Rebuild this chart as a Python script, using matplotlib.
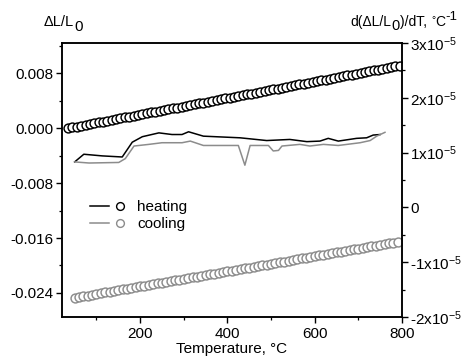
import matplotlib
matplotlib.use("Agg")
import matplotlib.pyplot as plt
from matplotlib.lines import Line2D
from matplotlib.legend_handler import HandlerTuple
from matplotlib.ticker import MultipleLocator, FixedLocator, FuncFormatter

plt.rcParams['font.family'] = ['Liberation Sans', 'DejaVu Sans']
plt.rcParams['mathtext.fontset'] = 'custom'
plt.rcParams['mathtext.rm'] = 'Liberation Sans'
plt.rcParams['mathtext.it'] = 'Liberation Sans'
plt.rcParams['mathtext.default'] = 'regular'

# ---- data: dL/L0 (circles, left axis) ----
heat_T = [35, 45, 55, 65, 75, 85, 95, 105, 115, 125,
          135, 145, 155, 165, 175, 185, 195, 205, 215, 225,
          235, 245, 255, 265, 275, 285, 295, 305, 315, 325,
          335, 345, 355, 365, 375, 385, 395, 405, 415, 425,
          435, 445, 455, 465, 475, 485, 495, 505, 515, 525,
          535, 545, 555, 565, 575, 585, 595, 605, 615, 625,
          635, 645, 655, 665, 675, 685, 695, 705, 715, 725,
          735, 745, 755, 765, 775, 785, 795]
heat_dL_e3 = [0.00, 0.12, 0.24, 0.36, 0.48, 0.60, 0.72, 0.84, 0.96, 1.08,
              1.20, 1.32, 1.44, 1.56, 1.68, 1.80, 1.92, 2.04, 2.16, 2.28,
              2.40, 2.52, 2.64, 2.76, 2.88, 3.00, 3.12, 3.24, 3.36, 3.48,
              3.60, 3.72, 3.84, 3.96, 4.08, 4.20, 4.32, 4.44, 4.56, 4.68,
              4.80, 4.92, 5.04, 5.16, 5.28, 5.40, 5.52, 5.64, 5.76, 5.88,
              6.00, 6.12, 6.24, 6.36, 6.48, 6.60, 6.72, 6.84, 6.96, 7.08,
              7.20, 7.32, 7.44, 7.56, 7.68, 7.80, 7.92, 8.04, 8.16, 8.28,
              8.40, 8.52, 8.64, 8.76, 8.88, 9.00, 9.12]

cool_T = [50, 60, 70, 80, 90, 100, 110, 120, 130, 140,
          150, 160, 170, 180, 190, 200, 210, 220, 230, 240,
          250, 260, 270, 280, 290, 300, 310, 320, 330, 340,
          350, 360, 370, 380, 390, 400, 410, 420, 430, 440,
          450, 460, 470, 480, 490, 500, 510, 520, 530, 540,
          550, 560, 570, 580, 590, 600, 610, 620, 630, 640,
          650, 660, 670, 680, 690, 700, 710, 720, 730, 740,
          750, 760, 770, 780, 790]
cool_dL_e3 = [-24.70, -24.59, -24.48, -24.37, -24.26, -24.15, -24.04, -23.93, -23.82, -23.71,
              -23.60, -23.49, -23.38, -23.27, -23.16, -23.05, -22.94, -22.83, -22.72, -22.61,
              -22.50, -22.39, -22.28, -22.17, -22.06, -21.95, -21.84, -21.73, -21.62, -21.51,
              -21.40, -21.29, -21.18, -21.07, -20.96, -20.85, -20.74, -20.63, -20.52, -20.41,
              -20.30, -20.19, -20.08, -19.97, -19.86, -19.75, -19.64, -19.53, -19.42, -19.31,
              -19.20, -19.09, -18.98, -18.87, -18.76, -18.65, -18.54, -18.43, -18.32, -18.21,
              -18.10, -17.99, -17.88, -17.77, -17.66, -17.55, -17.44, -17.33, -17.22, -17.11,
              -17.00, -16.89, -16.78, -16.67, -16.56]

# ---- data: d(dL/L0)/dT (lines, right axis), units 1e-5 1/°C ----
heat_dT_T = [50, 71, 113, 159, 182, 205, 243, 273, 296, 311, 345, 429, 490,
             543, 582, 612, 631, 654, 696, 719, 734, 750]
heat_CTE_e5 = [0.83, 0.97, 0.94, 0.92, 1.19, 1.29, 1.36, 1.33, 1.33, 1.38, 1.30, 1.27, 1.22,
               1.24, 1.20, 1.21, 1.26, 1.21, 1.26, 1.27, 1.32, 1.33]

cool_dT_T = [50, 83, 151, 166, 186, 220, 250, 296, 315, 345, 425, 440, 452, 494,
             505, 517, 525, 566, 589, 620, 654, 704, 727, 742, 761]
cool_CTE_e5 = [0.83, 0.81, 0.82, 0.89, 1.12, 1.15, 1.18, 1.18, 1.21, 1.13, 1.13, 0.77, 1.13, 1.13,
               1.03, 1.04, 1.12, 1.15, 1.12, 1.15, 1.13, 1.18, 1.22, 1.30, 1.37]

x_ticks = [200, 400, 600, 800]
left_ticks = [-0.024, -0.016, -0.008, 0.000, 0.008]
right_ticks_e5 = [-2, -1, 0, 1, 2, 3]
right_labels = ['-2x10$^{-5}$', '-1x10$^{-5}$', '0', '1x10$^{-5}$', '2x10$^{-5}$', '3x10$^{-5}$']

heat_col = 'black'
cool_col = '#8c8c8c'
MS = 6.4
MEW = 1.05

fig = plt.figure(figsize=(4.62, 3.59), dpi=100)
ax = fig.add_axes([62/462, 42/359, 340/462, 274/359])
ax2 = ax.twinx()

ax.plot(heat_T, [v * 1e-3 for v in heat_dL_e3], 'o', ms=MS, mfc='white', mec=heat_col, mew=MEW,
        linestyle='none')
ax.plot(cool_T, [v * 1e-3 for v in cool_dL_e3], 'o', ms=MS, mfc='white', mec=cool_col, mew=MEW,
        linestyle='none')

ax2.plot(heat_dT_T, [v * 1e-5 for v in heat_CTE_e5], color=heat_col, lw=1.1)
ax2.plot(cool_dT_T, [v * 1e-5 for v in cool_CTE_e5], color=cool_col, lw=1.1)

ax.set_xlim(21, 800)
ax.set_ylim(-0.0275, 0.0124)
ax2.set_ylim(-2e-5, 3e-5)

ax.xaxis.set_major_locator(FixedLocator(x_ticks))
ax.xaxis.set_minor_locator(MultipleLocator(100))
ax.yaxis.set_major_locator(FixedLocator(left_ticks))
ax.yaxis.set_minor_locator(MultipleLocator(0.004))
ax.yaxis.set_major_formatter(FuncFormatter(lambda v, p: f"{v:.3f}"))

ax2.yaxis.set_major_locator(FixedLocator([v * 1e-5 for v in right_ticks_e5]))
ax2.set_yticklabels(right_labels)
ax2.yaxis.set_minor_locator(MultipleLocator(0.5e-5))

for a in (ax, ax2):
    for s in a.spines.values():
        s.set_linewidth(1.1)
    a.tick_params(which='major', direction='out', length=4, width=1.0, labelsize=11, pad=2)
    a.tick_params(which='minor', direction='out', length=2.5, width=0.9)
ax.tick_params(top=False, right=False, which='both')
ax.tick_params(axis='x', pad=3)

ax.set_xlabel('Temperature, °C', fontsize=11, labelpad=1)


def rich_text(fig, x_px, y_px, pieces, ha='left'):
    """pieces: list of (text, fontsize, dy_px). Placed one after another."""
    renderer = fig.canvas.get_renderer()
    widths = []
    for txt, fs, dy in pieces:
        t = fig.text(0, 0, txt, fontsize=fs)
        bb = t.get_window_extent(renderer)
        widths.append(bb.width)
        t.remove()
    total = sum(widths)
    cur = x_px if ha == 'left' else x_px - total
    for (txt, fs, dy), w in zip(pieces, widths):
        fig.text(cur / fig.bbox.width, (fig.bbox.height - y_px - dy) / fig.bbox.height,
                 txt, fontsize=fs, va='baseline', ha='left')
        cur += w


rich_text(fig, 44, 26, [('ΔL/L', 10.5, 0), ('0', 11.0, 5)])
rich_text(fig, 457, 26, [('d(ΔL/L', 10.0, 0), ('0', 10.5, 4), (')/dT, ', 10.0, 0),
                         ('°', 7.5, -3), ('C', 10.0, 0), ('-1', 9.5, -6)], ha='right')

h1 = (Line2D([], [], color=heat_col, lw=1.1),
      Line2D([], [], marker='o', ms=5.6, mfc='white', mec=heat_col, mew=1.0, linestyle='none'))
h2 = (Line2D([], [], color=cool_col, lw=1.1),
      Line2D([], [], marker='o', ms=5.6, mfc='white', mec=cool_col, mew=1.0, linestyle='none'))
ax.legend([h1, h2], ['heating', 'cooling'], handler_map={tuple: HandlerTuple(ndivide=None, pad=0.1)},
          loc='upper left', bbox_to_anchor=(0.05, 0.465), frameon=False, fontsize=11,
          handlelength=2.6, handletextpad=0.5, labelspacing=0.2, borderpad=0.2)

fig.savefig('out.png', dpi=100)
